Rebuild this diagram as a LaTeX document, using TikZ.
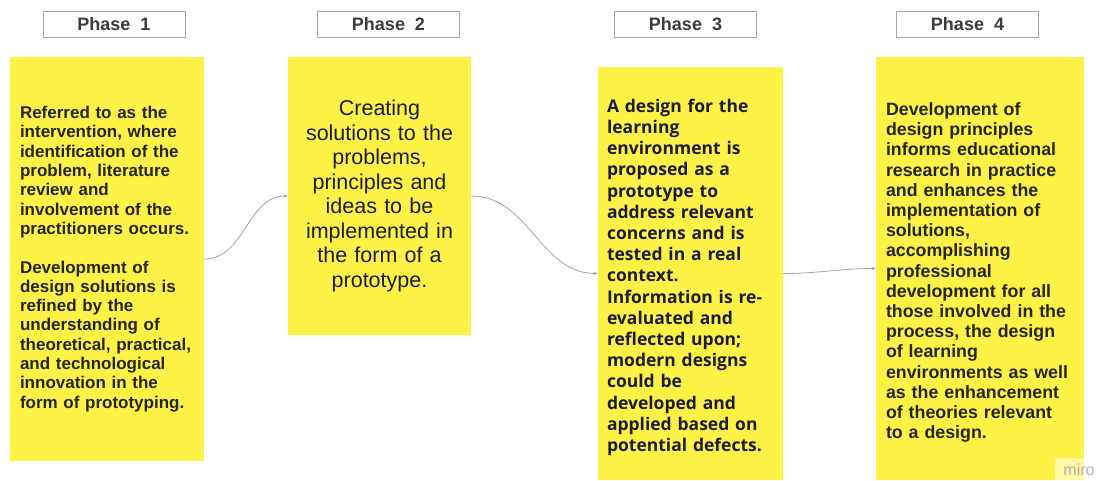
\documentclass[tikz,border=0pt]{standalone}
\usepackage{fontspec}
\setmainfont{Liberation Sans}
\newfontfamily\notefont{Open Sans}
\usetikzlibrary{arrows.meta, positioning}
\definecolor{stickyyellow}{HTML}{FFF246}
\definecolor{inkdark}{HTML}{252525}
\definecolor{inknavy}{HTML}{1C1C3C}
\definecolor{framegray}{HTML}{A6A6A6}
\definecolor{linkgray}{HTML}{A3A3A3}
% invisible strut that pushes a note's text block a little lower
\newcommand{\notestrut}{\rule{0pt}{21pt}}

\tikzset{
  phase/.style={draw=framegray, line width=0.9pt, fill=white, inner sep=0pt,
    minimum width=142pt, minimum height=26pt, text=inkdark!90,
    font=\bfseries\fontsize{18}{18}\selectfont},
  sticky/.style={fill=stickyyellow, inner sep=0pt},
  link/.style={draw=linkgray, line width=0.8pt, out=0, in=180,
    -{Stealth[length=4.5pt, width=3.5pt]}},
}

\begin{document}
\begin{tikzpicture}[x=1pt, y=-1pt]
  \useasboundingbox (0,0) rectangle (1103,481);

  % phase headers
  \node[phase] (ph1) at (114,24) {Phase\ \ 1};
  \node[phase] (ph2) at (388.5,24) {Phase\ \ 2};
  \node[phase] (ph3) at (685.5,24) {Phase\ \ 3};
  \node[phase] (ph4) at (967.5,24) {Phase\ \ 4};

  % sticky notes
  \node[sticky, minimum width=194pt, minimum height=404pt, text width=174pt,
    align=left, text=inkdark, font=\bfseries\fontsize{17}{19.3}\selectfont]
    (explore) at (107,259)
    {Referred to as the\\ intervention, where\\ identification of the\\
     problem, literature\\ review and\\ involvement of the\\
     practitioners occurs.\\[19.3pt]
     Development of\\ design solutions is\\ refined by the\\
     understanding of\\ theoretical, practical,\\ and technological\\
     innovation in the\\ form of prototyping.};
  \node[sticky, minimum width=183pt, minimum height=278pt, text width=170pt,
    align=center, text=inknavy, font=\fontsize{21.5}{24.5}\selectfont]
    (create) at (379.5,196)
    {Creating\\ solutions to the\\ problems,\\ principles and\\ ideas to be\\
     implemented in\\ the form of a\\ prototype.};
  \node[sticky, minimum width=185pt, minimum height=413pt, text width=167pt,
    align=left, text=inknavy, font=\notefont\bfseries\fontsize{17.5}{21.2}\selectfont]
    (prototype) at (690.5,273.5)
    {\notestrut A design for the\\ learning\\ environment is\\ proposed as a\\
     prototype to\\ address relevant\\ concerns and is\\ tested in a real\\
     context.\\ Information is re-\\ evaluated and\\ reflected upon;\\
     modern designs\\ could be\\ developed and\\ applied based on\\
     potential defects.};
  \node[sticky, minimum width=208pt, minimum height=423pt, text width=188pt,
    align=left, text=inkdark, font=\bfseries\fontsize{17.8}{20.2}\selectfont]
    (reflect) at (980,268.5)
    {\notestrut Development of\\ design principles\\ informs educational\\
     research in practice\\ and enhances the\\ implementation of\\
     solutions,\\ accomplishing\\ professional\\ development for all\\
     those involved in the\\ process, the design\\ of learning\\
     environments as well\\ as the enhancement\\ of theories relevant\\
     to a design.};

  % connectors between the notes
  \draw[link] (explore.east) to (create.west);
  \draw[link] (create.east) to (prototype.west);
  \draw[link] (prototype.east) to (reflect.west);

  \node[fill=white, fill opacity=0.5, text opacity=1, text=black!30,
    minimum width=48pt, minimum height=23pt, inner sep=0pt,
    font=\fontsize{16}{16}\selectfont] (mark) at (1079,469.5) {miro};
\end{tikzpicture}
\end{document}
